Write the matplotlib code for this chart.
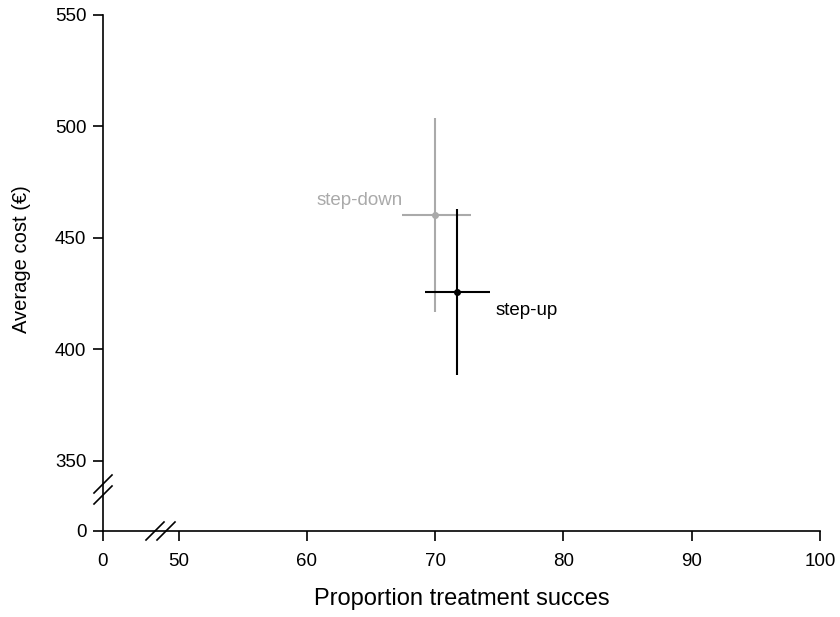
import matplotlib.pyplot as plt
from matplotlib.lines import Line2D

plt.rcParams['font.family'] = ['Liberation Sans', 'DejaVu Sans']

# data
labels = ['step-down', 'step-up']
success = [70.0, 71.7]
success_lo = [67.4, 69.2]
success_hi = [72.8, 74.3]
cost = [460.3, 425.8]
cost_lo = [416.8, 388.6]
cost_hi = [503.8, 462.9]
colors = ['#aaaaaa', '#000000']

x_ticks = [50, 60, 70, 80, 90, 100]
y_ticks = [350, 400, 450, 500, 550]
# broken axes: the "0" tick sits a bit below/left of the first real tick
x_zero = 44.1
y_zero = 318.6

fig = plt.figure(figsize=(8.4, 6.17), dpi=100)
ax = fig.add_axes([103 / 840, 86 / 617, 717 / 840, 516 / 617])

for i in range(len(labels)):
    ax.errorbar(success[i], cost[i],
                xerr=[[success[i] - success_lo[i]], [success_hi[i] - success[i]]],
                yerr=[[cost[i] - cost_lo[i]], [cost_hi[i] - cost[i]]],
                fmt='o', color=colors[i], ms=4, elinewidth=1.5, capsize=0)

ax.text(success_lo[0] + 0.1, cost[0] + 2.5, labels[0], color=colors[0],
        fontsize=13.5, ha='right', va='bottom')
ax.text(success_hi[1] + 0.4, cost[1] - 4.7, labels[1], color=colors[1],
        fontsize=13.5, ha='left', va='top')

ax.set_xlim(x_zero, 100)
ax.set_ylim(y_zero, 550)
ax.set_xticks([x_zero] + x_ticks)
ax.set_xticklabels(['0'] + [str(t) for t in x_ticks])
ax.set_yticks([y_zero] + y_ticks)
ax.set_yticklabels(['0'] + [str(t) for t in y_ticks])
ax.tick_params(labelsize=13.5, length=7, width=1.2, direction='out', pad=5)
ax.tick_params(axis='x', pad=9)
for s in ['top', 'right']:
    ax.spines[s].set_visible(False)
for s in ['left', 'bottom']:
    ax.spines[s].set_linewidth(1.2)

ax.set_xlabel('Proportion treatment succes', fontsize=17, labelpad=13)
ax.set_ylabel('Average cost (€)', fontsize=14.5)
ax.yaxis.set_label_coords(-0.100, 0.527)

# break marks drawn in pixel offsets around axis positions
def slash(xp, yp):
    fig.add_artist(Line2D([(xp - 9) / 840, (xp + 9) / 840],
                          [1 - (yp + 9) / 617, 1 - (yp - 9) / 617],
                          color='black', lw=1.2))

slash(103, 484)
slash(103, 495)
slash(155, 531)
slash(166, 531)

plt.savefig('out.png')
